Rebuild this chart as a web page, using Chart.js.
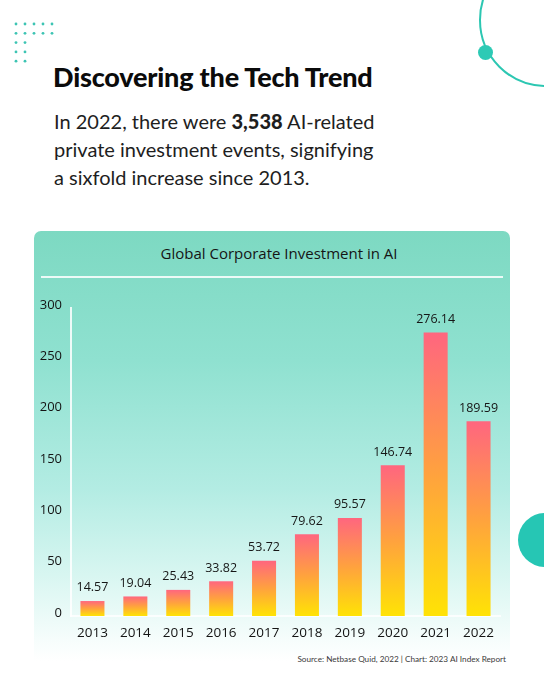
<!DOCTYPE html>
<html>
<head>
<meta charset="utf-8">
<script src="https://cdn.jsdelivr.net/npm/chart.js@4"></script>
<style>
    html, body { margin: 0; padding: 0; background: #fff; }
    body { width: 544px; height: 680px; position: relative; overflow: hidden; font-family: "Open Sans", sans-serif; }
    .dots { position: absolute; left: 12px; top: 20px; }
    .ring { position: absolute; left: 479px; top: -47px; width: 134px; height: 134px; border: 2px solid #2cc7b2; border-radius: 50%; box-sizing: border-box; }
    .ring-dot { position: absolute; left: 478px; top: 45px; width: 15px; height: 15px; border-radius: 50%; background: #2dcab5; }
    .half { position: absolute; left: 518px; top: 513px; width: 54px; height: 54px; border-radius: 50%; background: #26c6b4; }
    h1 { position: absolute; left: 53px; top: 60px; margin: 0; font-family: Lato, sans-serif; font-weight: 900; font-size: 27px; letter-spacing: -0.2px; color: #0b0b0b; }
    .lead { position: absolute; left: 54px; top: 107px; margin: 0; font-family: Lato, sans-serif; font-size: 20px; line-height: 28px; color: #1e1e1e; font-weight: 400; }
    .lead b { font-weight: 900; }
    .panel { position: absolute; left: 34px; top: 231px; width: 476px; height: 430px; border-radius: 7px 7px 0 0;
        background: linear-gradient(180deg, #7dd9c2 0%, #8fe1d0 30%, #b3ece3 60%, #d8f6f1 80%, #f6fdfc 95%, #ffffff 100%); }
    .panel-title { position: absolute; left: 0; top: 12px; width: 490px; text-align: center; font-size: 15px; color: #151515; }
    .panel-rule { position: absolute; left: 7px; top: 45px; width: 462px; height: 2px; background: rgba(255,255,255,0.85); }
    #chart { position: absolute; left: 0; top: 0; }
    .source { position: absolute; right: 38px; top: 654px; font-family: Lato, sans-serif; font-size: 8.2px; color: #3a3a3a; }
</style>
</head>
<body>
<svg class="dots" width="50" height="50" id="dots"></svg>
<div class="ring"></div>
<div class="ring-dot"></div>
<div class="half"></div>

<h1>Discovering the Tech Trend</h1>
<p class="lead">In 2022, there were <b>3,538</b> AI-related<br>private investment events, signifying<br>a sixfold increase since 2013.</p>

<div class="panel">
    <div class="panel-title">Global Corporate Investment in AI</div>
    <div class="panel-rule"></div>
    <canvas id="chart" width="476" height="420"></canvas>
</div>
<div class="source">Source: Netbase Quid, 2022 | Chart: 2023 AI Index Report</div>

<script>
const years = ['2013', '2014', '2015', '2016', '2017', '2018', '2019', '2020', '2021', '2022'];
const investment = [14.57, 19.04, 25.43, 33.82, 53.72, 79.62, 95.57, 146.74, 276.14, 189.59];
const yTicks = [0, 50, 100, 150, 200, 250, 300];

// decorative dot grid, top left
const svg = document.getElementById('dots');
const dotRows = [5, 5, 2, 2, 2];
dotRows.forEach((n, r) => {
    for (let c = 0; c < n; c++) {
        const dot = document.createElementNS('http://www.w3.org/2000/svg', 'circle');
        dot.setAttribute('cx', 4 + c * 9);
        dot.setAttribute('cy', 4 + r * 9.3);
        dot.setAttribute('r', 1.4);
        dot.setAttribute('fill', '#3cc4b3');
        svg.appendChild(dot);
    }
});

// bar values above each bar
const valueLabels = {
    id: 'valueLabels',
    afterDatasetsDraw(chart) {
        const ctx = chart.ctx;
        const meta = chart.getDatasetMeta(0);
        ctx.save();
        ctx.font = '500 12.5px "Open Sans", sans-serif';
        ctx.fillStyle = '#161616';
        ctx.textAlign = 'center';
        ctx.textBaseline = 'bottom';
        meta.data.forEach((bar, i) => {
            ctx.fillText(investment[i].toFixed(2), bar.x, bar.y - 7);
        });
        ctx.restore();
    }
};

function barGradient(context) {
    const chart = context.chart;
    if (!chart.chartArea) return '#ff8a6a';
    const y = chart.scales.y;
    const top = y.getPixelForValue(context.raw);
    const base = y.getPixelForValue(0);
    const g = chart.ctx.createLinearGradient(0, top, 0, base);
    g.addColorStop(0, '#ff667f');
    g.addColorStop(0.5, '#ffa23e');
    g.addColorStop(1, '#ffe305');
    return g;
}

new Chart(document.getElementById('chart'), {
    type: 'bar',
    data: {
        labels: years,
        datasets: [{
            data: investment,
            backgroundColor: barGradient,
            borderWidth: 0,
            barPercentage: 0.8,
            categoryPercentage: 0.7
        }]
    },
    options: {
        responsive: false,
        animation: false,
        events: [],
        layout: { padding: { top: 77, right: 10, left: 0, bottom: 0 } },
        plugins: { legend: { display: false }, tooltip: { enabled: false }, title: { display: false } },
        scales: {
            y: {
                min: 0,
                max: 300,
                afterBuildTicks: scale => { scale.ticks = yTicks.map(v => ({ value: v })); },
                afterFit: scale => { scale.width = 37; },
                grid: { display: false, drawTicks: false },
                border: { display: true, color: 'rgba(255,255,255,0.85)', width: 2 },
                ticks: {
                    padding: 9,
                    labelOffset: -3,
                    color: '#141414',
                    font: { family: '"Open Sans", sans-serif', size: 13, weight: '500' }
                }
            },
            x: {
                afterFit: scale => { scale.height = 35; },
                grid: { display: false, drawTicks: false },
                border: { display: true, color: 'rgba(255,255,255,0.8)', width: 2 },
                ticks: {
                    padding: 9,
                    color: '#141414',
                    font: { family: '"Open Sans", sans-serif', size: 13.5, weight: '500' }
                }
            }
        }
    },
    plugins: [valueLabels]
});
</script>
</body>
</html>
